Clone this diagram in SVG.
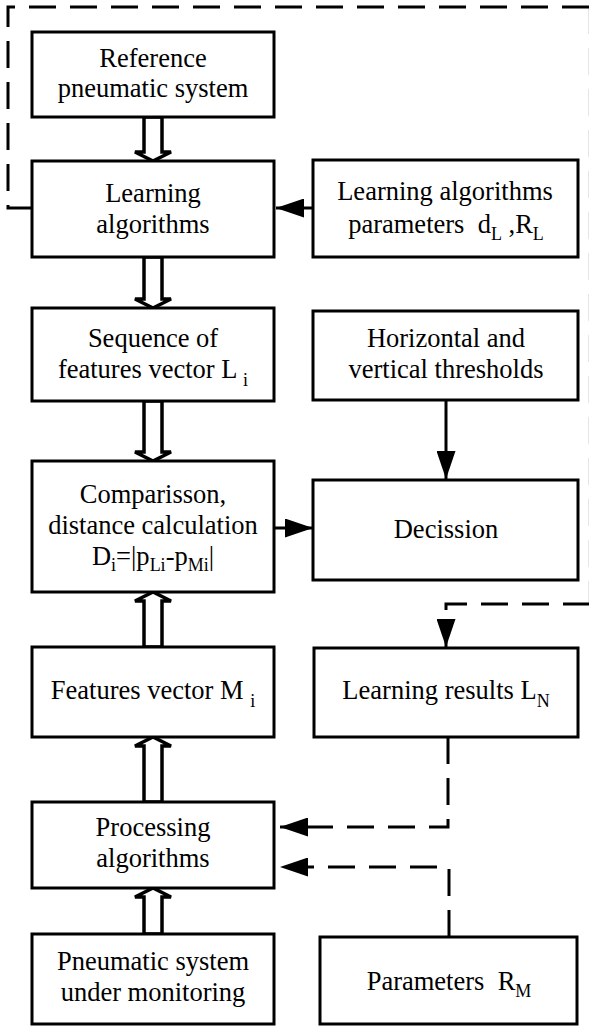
<svg xmlns="http://www.w3.org/2000/svg" width="589" height="1027" viewBox="0 0 589 1027">
<style>
.box{fill:#fff;stroke:#000;stroke-width:3}
.t{font-family:'Liberation Serif','Times New Roman','DejaVu Serif',serif;font-size:26.5px;fill:#000;text-anchor:middle}
.s{font-size:18px}
.ln{fill:none;stroke:#000;stroke-width:3}
.dash{fill:none;stroke:#000;stroke-width:3;stroke-dasharray:27 14}
.dbl{fill:#fff;stroke:#000;stroke-width:3.5;stroke-linejoin:miter}
</style>
<defs>
<marker id="ah" markerUnits="userSpaceOnUse" markerWidth="28" markerHeight="19" viewBox="0 0 28 19" refX="28" refY="9.5" orient="auto">
<path d="M0,0 L28,9.5 L0,19 z" fill="#000"/>
</marker>
</defs>
<g id="connectors">
<polygon class="dbl" points="144,117 144,152 135,152 153,161 171,152 162,152 162,117"/>
<polygon class="dbl" points="144,257 144,299 135,299 153,308 171,299 162,299 162,257"/>
<polygon class="dbl" points="144,401 144,452 135,452 153,461 171,452 162,452 162,401"/>
<polygon class="dbl" points="144,647 144,601 135,601 153,592 171,601 162,601 162,647"/>
<polygon class="dbl" points="144,802 144,746 135,746 153,737 171,746 162,746 162,802"/>
<polygon class="dbl" points="144,934 144,897 135,897 153,888 171,897 162,897 162,934"/>
<path class="ln" d="M313,208 L276,208" marker-end="url(#ah)"/>
<path class="ln" d="M446,400 L446,479" marker-end="url(#ah)"/>
<path class="ln" d="M274,528 L313,528" marker-end="url(#ah)"/>
<path class="dash" d="M32,208 L8,208 L8,7 L590,7"/>
<path fill="none" stroke="#000" stroke-width="2.2" stroke-dasharray="27 14" d="M590,7 L590,604"/>
<path class="dash" d="M590,604 L446,604 L446,647" marker-end="url(#ah)"/>
<path class="dash" d="M448,737 L448,827 L280,827" marker-end="url(#ah)"/>
<path class="dash" d="M449,937 L449,867 L280,867" marker-end="url(#ah)"/>
</g>
<g id="n1"><rect class="box" x="32" y="32" width="242" height="85"/>
<text class="t" x="153" y="67">Reference</text><text class="t" x="153" y="97">pneumatic system</text></g>
<g id="n2"><rect class="box" x="32" y="161" width="242" height="96"/>
<text class="t" x="153" y="202">Learning</text><text class="t" x="153" y="233">algorithms</text></g>
<g id="n3"><rect class="box" x="313" y="160" width="265" height="97"/>
<text class="t" x="445" y="200">Learning algorithms</text>
<text class="t" x="446" y="233">parameters&#160; d<tspan class="s" dy="7">L</tspan><tspan dy="-7"> ,R</tspan><tspan class="s" dy="7">L</tspan></text></g>
<g id="n4"><rect class="box" x="32" y="308" width="242" height="93"/>
<text class="t" x="153" y="347">Sequence of</text>
<text class="t" x="153" y="378">features vector L <tspan class="s" dy="8">i</tspan></text></g>
<g id="n5"><rect class="box" x="313" y="311" width="265" height="89"/>
<text class="t" x="446" y="347">Horizontal and</text><text class="t" x="446" y="378">vertical thresholds</text></g>
<g id="n6"><rect class="box" x="32" y="461" width="242" height="131"/>
<text class="t" x="153" y="503">Comparisson,</text>
<text class="t" x="153" y="534">distance calculation</text>
<text class="t" x="153" y="565">D<tspan class="s" dy="6">i</tspan><tspan dy="-6">=|p</tspan><tspan class="s" dy="6">Li</tspan><tspan dy="-6">-p</tspan><tspan class="s" dy="6">Mi</tspan><tspan dy="-6">|</tspan></text></g>
<g id="n7"><rect class="box" x="313" y="480" width="265" height="100"/>
<text class="t" x="446" y="538">Decission</text></g>
<g id="n8"><rect class="box" x="32" y="647" width="242" height="90"/>
<text class="t" x="153" y="699">Features vector M <tspan class="s" dy="8">i</tspan></text></g>
<g id="n9"><rect class="box" x="314" y="648" width="264" height="89"/>
<text class="t" x="446" y="699">Learning results L<tspan class="s" dy="8">N</tspan></text></g>
<g id="n10"><rect class="box" x="32" y="802" width="242" height="86"/>
<text class="t" x="153" y="836">Processing</text><text class="t" x="153" y="867">algorithms</text></g>
<g id="n11"><rect class="box" x="32" y="934" width="242" height="90"/>
<text class="t" x="153" y="970">Pneumatic system</text><text class="t" x="153" y="1001">under monitoring</text></g>
<g id="n12"><rect class="box" x="320" y="937" width="257" height="87"/>
<text class="t" x="449" y="990">Parameters&#160; R<tspan class="s" dy="7">M</tspan></text></g>
</svg>
